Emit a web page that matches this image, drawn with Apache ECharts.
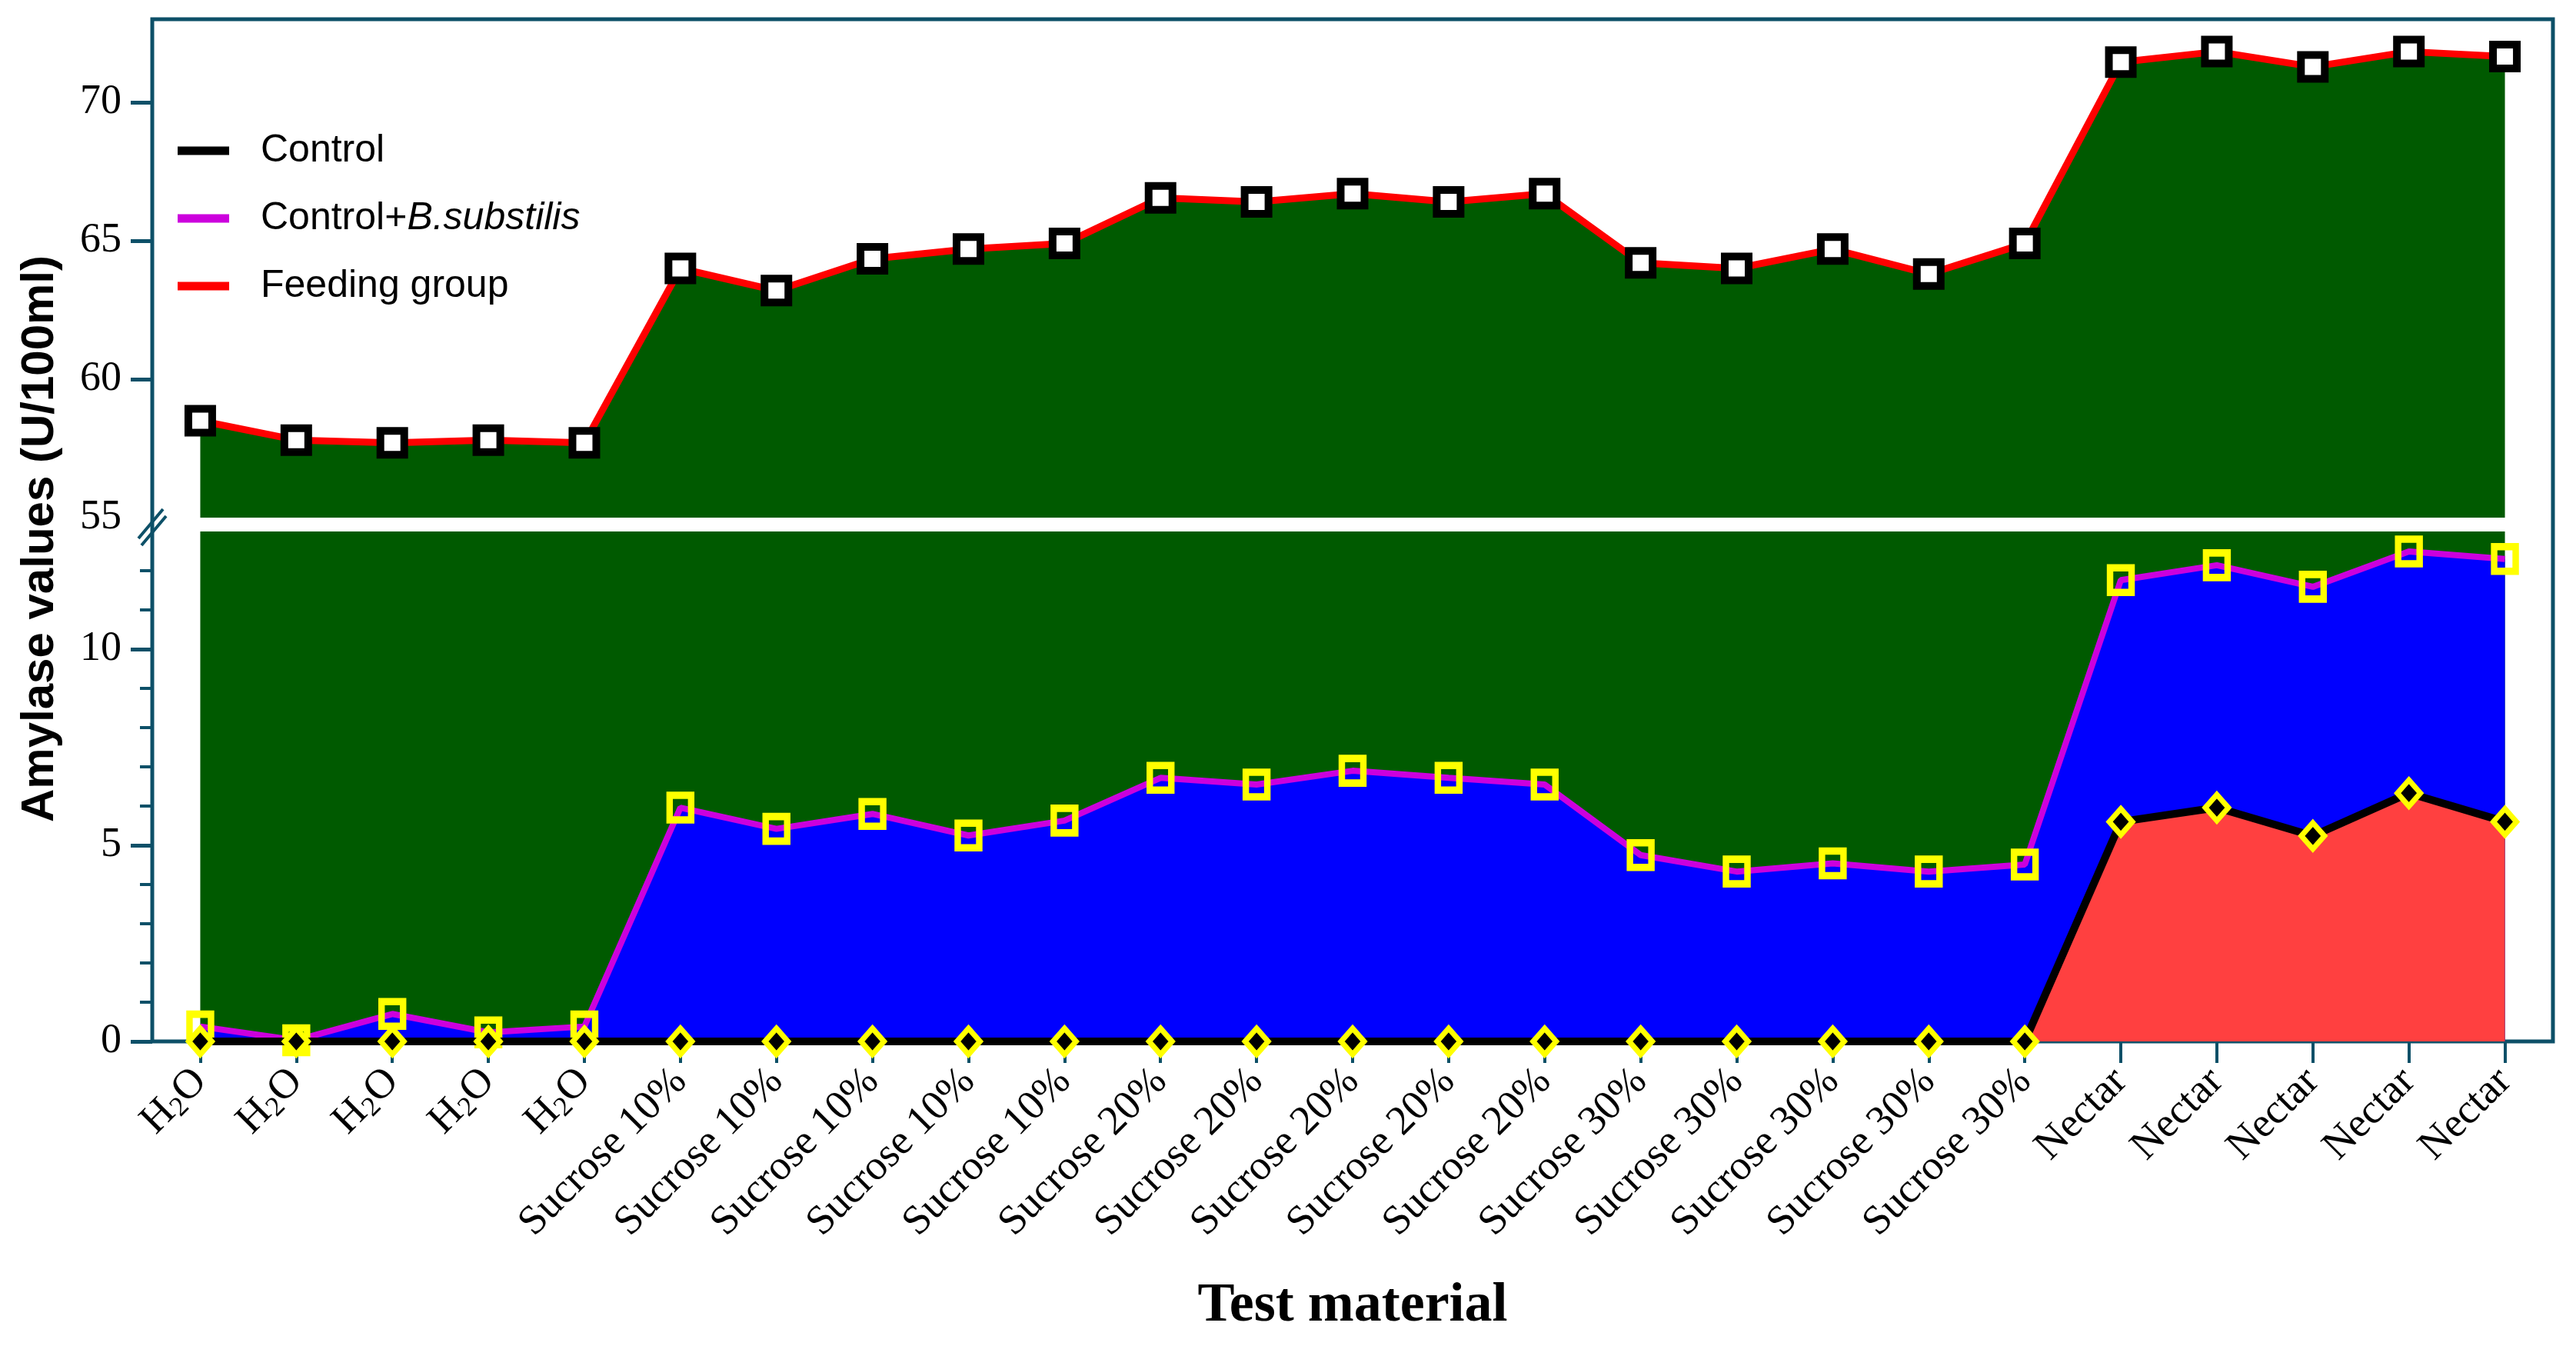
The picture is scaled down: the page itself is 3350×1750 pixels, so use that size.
<!DOCTYPE html>
<html><head><meta charset="utf-8">
<script src="https://cdn.jsdelivr.net/npm/echarts@6/dist/echarts.min.js"></script>
<style>html,body{margin:0;padding:0;background:#fff}#c{width:3350px;height:1750px}</style>
</head><body><div id="c"></div>
<script>
const categories = ['H2O','H2O','H2O','H2O','H2O',
  'Sucrose 10%','Sucrose 10%','Sucrose 10%','Sucrose 10%','Sucrose 10%',
  'Sucrose 20%','Sucrose 20%','Sucrose 20%','Sucrose 20%','Sucrose 20%',
  'Sucrose 30%','Sucrose 30%','Sucrose 30%','Sucrose 30%','Sucrose 30%',
  'Nectar','Nectar','Nectar','Nectar','Nectar'];
const feeding = [58.5,57.8,57.7,57.8,57.7, 64.0,63.2,64.35,64.7,64.9, 66.55,66.4,66.7,66.4,66.7, 64.2,64.0,64.7,63.8,64.9, 71.45,71.83,71.28,71.83,71.65];
const bsub = [0.38,0.03,0.70,0.23,0.38, 5.96,5.42,5.8,5.25,5.63, 6.72,6.55,6.9,6.72,6.55, 4.75,4.33,4.54,4.33,4.51, 11.76,12.14,11.59,12.49,12.30];
const control = [0,0,0,0,0, 0,0,0,0,0, 0,0,0,0,0, 0,0,0,0,0, 5.6,5.96,5.24,6.33,5.6];
const upperTickValues = [60,65,70];
const upperLabelValues = [55,60,65,70];
const lowerMajorTicks = [0,5,10];
const lowerMinorTicks = [1,2,3,4,6,7,8,9,11,12];

const TEAL = '#0d5068';
const SERIF = 'Liberation Serif';
const SANS = 'Liberation Sans';
const chart = echarts.init(document.getElementById('c'), null, {renderer:'canvas'});

const gl = 198, gr = 30;
const option = {
  backgroundColor:'#fff',
  animation:false,
  grid:[
    {left:gl, right:gr, top:25, bottom:396, show:true, borderColor:TEAL, borderWidth:5, backgroundColor:'transparent'},
    {left:gl, right:gr, top:25, height:648},
    {left:gl, right:gr, top:691, bottom:396}
  ],
  legend:{
    orient:'vertical', left:226, top:166, itemGap:38, itemWidth:67, itemHeight:11,
    textStyle:{fontFamily:SANS, fontSize:50, color:'#000', padding:[0,0,0,36],
      rich:{it:{fontFamily:SANS, fontSize:50, fontStyle:'italic', color:'#000'}}},
    formatter:(n)=> n==='Control+B.substilis' ? 'Control+{it|B.substilis}' : n,
    data:[
      {name:'Control', icon:'rect', itemStyle:{color:'#000', borderWidth:0}},
      {name:'Control+B.substilis', icon:'rect', itemStyle:{color:'#cc00dd', borderWidth:0}},
      {name:'Feeding group', icon:'rect', itemStyle:{color:'#ff0000', borderWidth:0}}
    ]
  },
  xAxis:[
    {gridIndex:0, type:'category', data:categories, show:false},
    {gridIndex:1, type:'category', data:categories, show:false, boundaryGap:true},
    {gridIndex:2, type:'category', data:categories, boundaryGap:true,
      axisLine:{show:false},
      axisTick:{show:true, alignWithLabel:true, interval:0, length:28, inside:false, lineStyle:{color:TEAL, width:4}},
      axisLabel:{interval:0, rotate:45, margin:44, color:'#000', fontFamily:SERIF, fontSize:54,
        formatter:(v)=> v==='H2O' ? '{n|H}{s|2}{n|O}' : '{n|'+v+'}',
        rich:{
          n:{fontFamily:SERIF, fontSize:54, color:'#000'},
          s:{fontFamily:SERIF, fontSize:36, color:'#000', verticalAlign:'bottom', padding:[22,0,0,0]}
        }},
      name:'Test material', nameLocation:'middle', nameGap:308,
      nameTextStyle:{fontFamily:SERIF, fontSize:72, fontWeight:'bold', color:'#000'}
    }
  ],
  yAxis:[
    {gridIndex:0, type:'value', min:0, max:1, axisLine:{show:false}, axisTick:{show:false}, axisLabel:{show:false}, splitLine:{show:false},
      name:'Amylase values (U/100ml)', nameLocation:'middle', nameGap:116,
      nameTextStyle:{fontFamily:SANS, fontSize:60, fontWeight:'bold', color:'#000', padding:[0,22,0,0]}},
    {gridIndex:1, type:'value', min:55, max:73, axisLine:{show:false}, splitLine:{show:false},
      axisTick:{show:true, length:28, customValues:upperTickValues, lineStyle:{color:TEAL, width:5}},
      axisLabel:{customValues:upperLabelValues, margin:40, color:'#000', fontFamily:SERIF, fontSize:54}},
    {gridIndex:2, type:'value', min:0, max:13, axisLine:{show:false}, splitLine:{show:false},
      axisTick:{show:true, length:28, customValues:lowerMajorTicks, lineStyle:{color:TEAL, width:5}},
      axisLabel:{customValues:lowerMajorTicks, margin:40, color:'#000', fontFamily:SERIF, fontSize:54}},
    {gridIndex:2, type:'value', min:0, max:13, position:'left', axisLine:{show:false}, splitLine:{show:false},
      axisTick:{show:true, length:16, customValues:lowerMinorTicks, lineStyle:{color:TEAL, width:4}},
      axisLabel:{show:false}}
  ],
  series:[
    {name:'Feeding group', type:'line', xAxisIndex:1, yAxisIndex:1, data:feeding, z:3,
      lineStyle:{color:'#ff0000', width:9}, areaStyle:{color:'#005a00', opacity:1},
      symbol:'rect', symbolSize:31, itemStyle:{color:'#ffffff', borderColor:'#000', borderWidth:10}},
    {name:'Feeding group', type:'line', xAxisIndex:2, yAxisIndex:2, data:feeding, z:2,
      lineStyle:{color:'#ff0000', width:0}, areaStyle:{color:'#005a00', opacity:1}, showSymbol:false, symbol:'none'},
    {name:'Control+B.substilis', type:'line', xAxisIndex:2, yAxisIndex:2, data:bsub, z:3,
      lineStyle:{color:'#cc00dd', width:8}, areaStyle:{color:'#0000ff', opacity:1},
      symbol:'rect', symbolSize:[28,32], itemStyle:{color:'rgba(0,0,0,0)', borderColor:'#ffff00', borderWidth:9}},
    {name:'Control', type:'line', xAxisIndex:2, yAxisIndex:2, data:control, z:4,
      lineStyle:{color:'#000', width:10}, areaStyle:{color:'#ff4040', opacity:1},
      symbol:'diamond', symbolSize:[30,34], itemStyle:{color:'#000', borderColor:'#ffff00', borderWidth:7}}
  ],
  graphic:[
    {type:'line', z:100, shape:{x1:180, y1:700, x2:212, y2:662}, style:{stroke:TEAL, lineWidth:4}},
    {type:'line', z:100, shape:{x1:184, y1:709, x2:216, y2:671}, style:{stroke:TEAL, lineWidth:4}}
  ]
};
chart.setOption(option);
</script></body></html>
